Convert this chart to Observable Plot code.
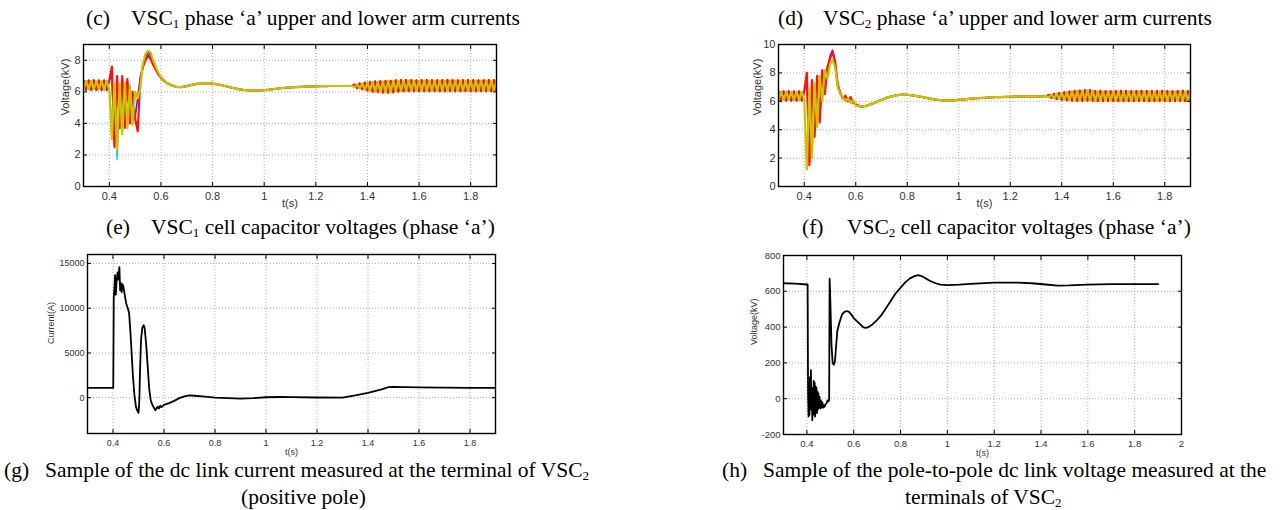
<!DOCTYPE html>
<html><head><meta charset="utf-8">
<script src="https://cdn.jsdelivr.net/npm/d3@7"></script>
<script src="https://cdn.jsdelivr.net/npm/@observablehq/plot@0.6"></script>
<style>
html,body{margin:0;padding:0;background:#fff;}
#wrap{position:relative;width:1284px;height:510px;overflow:hidden;background:#fff;}
.cap{position:absolute;font-family:"Liberation Serif","Times New Roman",serif;font-size:21.5px;line-height:22px;color:#000;white-space:nowrap;}
.cap .tag{display:inline-block;width:45px;}
.cap .tag2{display:inline-block;width:41px;}
.cap sub{font-size:13px;vertical-align:-3px;line-height:0;}
.panel{position:absolute;}
</style></head><body><div id="wrap">
<div class="cap" style="left:86px;top:7px"><span class="tag">(c)</span>VSC<sub>1</sub> phase ‘a’ upper and lower arm currents</div>
<div class="cap" style="left:778px;top:7px"><span class="tag">(d)</span>VSC<sub>2</sub> phase ‘a’ upper and lower arm currents</div>
<div class="cap" style="left:106px;top:216px"><span class="tag">(e)</span>VSC<sub>1</sub> cell capacitor voltages (phase ‘a’)</div>
<div class="cap" style="left:802px;top:216px"><span class="tag">(f)</span>VSC<sub>2</sub> cell capacitor voltages (phase ‘a’)</div>
<div class="cap" style="left:4px;top:459px"><span class="tag2">(g)</span>Sample of the dc link current measured at the terminal of VSC<sub>2</sub></div>
<div class="cap" style="left:241px;top:486px">(positive pole)</div>
<div class="cap" style="left:722px;top:459px"><span class="tag2">(h)</span>Sample of the pole-to-pole dc link voltage measured at the</div>
<div class="cap" style="left:905px;top:486px">terminals of VSC<sub>2</sub></div>
</div>
<script>
// ---------- tick labels ----------
const xTicks = [0.4,0.6,0.8,1,1.2,1.4,1.6,1.8];
const xTicksH = [0.4,0.6,0.8,1,1.2,1.4,1.6,1.8,2];
const yTicksC = [0,2,4,6,8];
const yTicksD = [0,2,4,6,8,10];
const yTicksG = [0,5000,10000,15000];
const yTicksH = [-200,0,200,400,600,800];

// ---------- time bases for cell capacitor voltages (s) ----------
const timeFast1 = [0.30,0.31,0.32,0.33,0.34,0.35,0.36,0.37,0.38,0.39,0.40,0.41,0.42,0.43,0.44,0.45,0.46,0.47,0.48,0.49,0.50,0.51,0.52,0.53,0.54,0.55,0.56,0.57,0.58,0.59,0.60];
const timeSlow = [0.62,0.64,0.66,0.68,0.70,0.72,0.74,0.76,0.78,0.80,0.82,0.84,0.86,0.88,0.90,0.92,0.94,0.96,0.98,1.00,1.02,1.04,1.06,1.08,1.10,1.12,1.14,1.16,1.18,1.20,1.22,1.24,1.26,1.28,1.30,1.32,1.34];
const timeFast2 = [1.35,1.36,1.37,1.38,1.39,1.40,1.41,1.42,1.43,1.44,1.45,1.46,1.47,1.48,1.49,1.50,1.51,1.52,1.53,1.54,1.55,1.56,1.57,1.58,1.59,1.60,1.61,1.62,1.63,1.64,1.65,1.66,1.67,1.68,1.69,1.70,1.71,1.72,1.73,1.74,1.75,1.76,1.77,1.78,1.79,1.80,1.81,1.82,1.83,1.84,1.85,1.86,1.87,1.88,1.89,1.90];

// ---------- VSC1 cell voltages (kV) ----------
const c_red_fast1 = [6.70,6.15,6.70,6.15,6.71,6.15,6.70,6.14,6.70,6.15,6.70, 7.60,2.50,7.00,3.70,7.00,3.80,6.80,4.00,6.00,4.30, 3.50,6.80,7.60,8.00,8.30,8.10,7.70,7.40,7.10,6.90];
const c_olive_fast1 = [6.15,6.70,6.15,6.71,6.15,6.70,6.15,6.70,6.14,6.70,6.15, 3.00,6.60,2.30,6.50,3.30,6.60,3.70,6.40,3.90,6.00, 5.60,6.20,7.80,8.40,8.60,8.50,8.00,7.60,7.20,6.95];
const c_blue_fast1 = [6.75,6.10,6.75,6.10,6.76,6.10,6.75,6.09,6.75,6.10,6.75, 7.00,3.00,6.90,3.90,6.90,3.70,6.60,4.10,5.90,4.40, 5.60,6.90,7.50,8.20,8.50,8.30,7.90,7.50,7.15,6.90];
const c_slow = [6.60,6.42,6.32,6.30,6.36,6.44,6.50,6.54,6.55,6.52,6.47,6.40,6.32,6.24,6.17,6.12,6.09,6.08,6.09,6.11,6.14,6.18,6.22,6.26,6.28,6.30,6.32,6.33,6.34,6.35,6.36,6.36,6.37,6.37,6.37,6.37,6.38];
const c_red_fast2 = [6.45,6.25,6.52,6.18,6.58,6.10,6.62,6.02,6.65,6.00,6.66,5.97,6.68,5.96,6.70,5.98,6.72,6.02, 6.73,6.05,6.74,6.06,6.73,6.05,6.72,6.06,6.73,6.05,6.74,6.05,6.73,6.06,6.72,6.05,6.73,6.05,6.74,6.06,6.73,6.05,6.72,6.05,6.73,6.06,6.74,6.05,6.73,6.05,6.72,6.06,6.73,6.05,6.74,6.05,6.73,6.06];
const c_olive_fast2 = [6.28,6.48,6.20,6.55,6.13,6.60,6.05,6.63,6.00,6.65,5.97,6.67,5.96,6.69,5.98,6.70,6.03,6.72, 6.06,6.72,6.05,6.73,6.06,6.72,6.05,6.72,6.06,6.73,6.05,6.72,6.06,6.72,6.05,6.73,6.06,6.72,6.05,6.72,6.06,6.73,6.05,6.72,6.06,6.72,6.05,6.73,6.06,6.72,6.05,6.72,6.06,6.73,6.05,6.72,6.06,6.72];
const c_blue_fast2 = [6.47,6.22,6.55,6.15,6.60,6.07,6.65,6.00,6.68,5.97,6.69,5.94,6.70,5.93,6.72,5.96,6.75,6.00, 6.76,6.02,6.77,6.03,6.76,6.02,6.75,6.03,6.76,6.02,6.77,6.02,6.76,6.03,6.75,6.02,6.76,6.02,6.77,6.03,6.76,6.02,6.75,6.02,6.76,6.03,6.77,6.02,6.76,6.02,6.75,6.03,6.76,6.02,6.77,6.02,6.76,6.03];
const c_cyan_t = [0.40,0.41,0.42,0.43,0.44,0.45];
const c_cyan_v = [6.20,4.00,6.00,1.70,5.50,4.00];

// ---------- VSC2 cell voltages (kV) ----------
const d_red_fast1 = [6.68,6.08,6.68,6.08,6.69,6.08,6.68,6.07,6.68,6.08,6.68, 8.00,1.50,7.50,3.50,7.80,4.50,8.20,6.50,8.40,9.00, 9.50,8.80,7.20,6.60,6.20,6.40,6.00,6.30,5.90,5.80];
const d_olive_fast1 = [6.08,6.68,6.08,6.68,6.08,6.69,6.08,6.68,6.07,6.68,6.10, 1.20,6.90,2.00,7.30,4.20,7.80,6.00,8.20,7.60,8.60, 8.90,8.40,7.00,6.50,6.30,6.00,6.20,5.90,6.10,5.70];
const d_blue_fast1 = [6.72,6.02,6.72,6.02,6.73,6.02,6.72,6.01,6.72,6.02,6.72, 7.60,1.80,7.20,3.80,7.50,4.80,7.90,6.80,8.20,9.20, 9.60,8.60,7.00,6.50,6.30,6.10,6.20,5.95,6.00,5.75];
const d_slow = [5.62,5.68,5.80,5.95,6.10,6.24,6.35,6.43,6.47,6.46,6.42,6.36,6.29,6.22,6.15,6.10,6.07,6.06,6.07,6.10,6.13,6.17,6.20,6.23,6.25,6.27,6.29,6.30,6.31,6.32,6.33,6.33,6.34,6.34,6.34,6.35,6.36];
const d_red_fast2 = [6.45,6.25,6.52,6.18,6.58,6.12,6.63,6.08,6.68,6.05,6.72,6.05,6.75,6.05,6.78,6.05,6.78,6.05, 6.72,6.02,6.73,6.03,6.72,6.02,6.71,6.03,6.72,6.02,6.73,6.02,6.72,6.03,6.71,6.02,6.72,6.02,6.73,6.03,6.72,6.02,6.71,6.02,6.72,6.03,6.73,6.02,6.72,6.02,6.71,6.03,6.72,6.02,6.73,6.02,6.72,6.03];
const d_olive_fast2 = [6.28,6.48,6.20,6.55,6.14,6.60,6.10,6.65,6.06,6.70,6.05,6.73,6.05,6.76,6.05,6.78,6.05,6.76, 6.03,6.70,6.04,6.71,6.03,6.70,6.04,6.70,6.03,6.71,6.04,6.70,6.03,6.70,6.04,6.71,6.03,6.70,6.04,6.70,6.03,6.71,6.04,6.70,6.03,6.70,6.04,6.71,6.03,6.70,6.04,6.70,6.03,6.71,6.04,6.70,6.03,6.70];
const d_blue_fast2 = [6.47,6.23,6.55,6.15,6.60,6.10,6.66,6.05,6.70,6.02,6.75,6.02,6.78,6.02,6.80,6.02,6.80,6.02, 6.74,6.00,6.75,6.01,6.74,6.00,6.73,6.01,6.74,6.00,6.75,6.00,6.74,6.01,6.73,6.00,6.74,6.00,6.75,6.01,6.74,6.00,6.73,6.00,6.74,6.01,6.75,6.00,6.74,6.00,6.73,6.01,6.74,6.00,6.75,6.00,6.74,6.01];

// ---------- dc link current (A) ----------
const g_t = [0.300,0.401,0.403,0.406,0.408,0.411,0.414,0.418,0.421,0.425,0.428,0.431,0.434,0.437,0.441,0.446,0.452,0.458,0.463,0.468,0.473,0.478,0.484,0.490,0.496,0.500,0.503,0.506,0.510,0.515,0.520,0.524,0.530,0.536,0.542,0.548,0.553,0.558,0.562,0.566,0.570,0.575,0.580,0.585,0.590,0.600,0.620,0.640,0.660,0.680,0.700,0.720,0.750,0.800,0.850,0.900,0.950,1.000,1.050,1.100,1.200,1.300,1.350,1.400,1.450,1.480,1.500,1.600,1.700,1.800,1.900];
const g_i = [1100,1100,11200,12500,13700,11500,13000,14000,13200,14600,12000,12800,11800,12700,12400,11500,10500,10000,9500,7500,5000,2500,300,-1000,-1500,-1700,-500,3000,6500,7800,8100,7800,6000,3500,1000,-300,-700,-1000,-1200,-1400,-1200,-1000,-1200,-900,-1050,-800,-600,-350,-50,150,250,220,150,0,-50,-100,-50,50,80,60,20,0,250,550,900,1180,1200,1150,1120,1100,1100];

// ---------- pole-to-pole dc voltage (kV) ----------
const h_t = [0.300,0.350,0.400,0.403,0.404,0.405,0.407,0.409,0.411,0.413,0.415,0.417,0.419,0.421,0.423,0.425,0.427,0.429,0.431,0.433,0.435,0.437,0.439,0.441,0.443,0.445,0.447,0.449,0.451,0.454,0.457,0.460,0.463,0.466,0.469,0.472,0.476,0.480,0.484,0.488,0.492,0.495,0.497,0.500,0.505,0.510,0.515,0.520,0.525,0.530,0.540,0.550,0.560,0.570,0.580,0.590,0.600,0.620,0.640,0.650,0.660,0.680,0.700,0.720,0.740,0.760,0.780,0.800,0.820,0.840,0.860,0.875,0.890,0.910,0.930,0.950,0.970,1.000,1.050,1.100,1.200,1.300,1.360,1.420,1.470,1.520,1.600,1.700,1.800,1.900];
const h_v = [645,643,638,638,300,20,-100,60,-90,120,-60,160,-40,60,-120,40,-90,100,-70,90,-100,70,-70,60,-80,40,-60,30,-50,10,-55,-10,-50,-20,-50,-35,-45,-30,-25,-10,-15,-5,670,550,300,200,190,210,300,380,430,470,485,490,485,470,450,425,400,395,398,415,440,470,510,550,590,620,650,672,685,690,685,670,655,645,637,635,637,642,648,648,645,638,632,633,637,640,640,640];

// ---------- colours ----------
const RED = "#ff1010", OLIVE = "#c8c400", BLUE = "#2a2aff", CYAN = "#14c8d2";

function pts(t, v){ return t.map((x,i)=>({t:x, v:v[i]})); }
const fmt = d => String(+(+d).toFixed(2));

function makePanel(cfg){
  const marks = [
    Plot.gridX(cfg.xTicks, {stroke:"#9a9a9a", strokeOpacity:1, strokeDasharray:"1,2", strokeWidth:0.8}),
    Plot.gridY(cfg.yTicks, {stroke:"#9a9a9a", strokeOpacity:1, strokeDasharray:"1,2", strokeWidth:0.8})
  ];
  for (const s of cfg.series){
    marks.push(Plot.line(pts(s.t, s.v), {x:"t", y:"v", stroke:s.stroke, strokeWidth:s.sw, clip:true}));
  }
  marks.push(Plot.frame({stroke:"#000", strokeWidth:1.4}));
  marks.push(Plot.axisX(cfg.xTicks, {anchor:"bottom", tickSize:-4, tickPadding:10, label:null, tickFormat:fmt, fontSize:cfg.tf, fill:"#333", stroke:"#000"}));
  marks.push(Plot.axisX(cfg.xTicks, {anchor:"top", tickSize:-4, label:null, tickFormat:()=>"", stroke:"#000"}));
  marks.push(Plot.axisY(cfg.yTicks, {anchor:"left", tickSize:-4, tickPadding:7, label:null, tickFormat:fmt, fontSize:cfg.tf, fill:"#333", stroke:"#000"}));
  marks.push(Plot.axisY(cfg.yTicks, {anchor:"right", tickSize:-4, label:null, tickFormat:()=>"", stroke:"#000"}));
  marks.push(Plot.text([cfg.yLabel], {text:d=>d, frameAnchor:"left", dx:cfg.ylDx, rotate:-90, fontSize:cfg.lf, fill:"#333"}));
  marks.push(Plot.text(["t(s)"], {text:d=>d, frameAnchor:"bottom", dy:cfg.tdy, fontSize:cfg.lf, fill:"#333"}));
  const svg = Plot.plot({
    width: cfg.width, height: cfg.height,
    marginLeft: 50, marginRight: 12, marginTop: 6, marginBottom: 28,
    x: {domain: cfg.xDomain}, y: {domain: cfg.yDomain},
    style: {fontFamily: "'Liberation Sans', Arial, sans-serif", background: "transparent", color: "#000", overflow: "visible"},
    marks
  });
  const div = document.createElement("div");
  div.className = "panel";
  div.style.left = cfg.left + "px";
  div.style.top = cfg.top + "px";
  div.appendChild(svg);
  document.getElementById("wrap").appendChild(div);
}

function cellSeries(redA, oliveA, blueA, slow, redC, oliveC, blueC){
  const t = [...timeFast1, ...timeSlow, ...timeFast2];
  return {
    blue: {t, v:[...blueA, ...slow, ...blueC], stroke:BLUE, sw:1.6},
    red: {t, v:[...redA, ...slow, ...redC], stroke:RED, sw:2.2},
    olive: {t, v:[...oliveA, ...slow, ...oliveC], stroke:OLIVE, sw:2.2}
  };
}

// (c) VSC1
const sc = cellSeries(c_red_fast1,c_olive_fast1,c_blue_fast1,c_slow,c_red_fast2,c_olive_fast2,c_blue_fast2);
makePanel({left:33, top:38, width:475, height:176, xDomain:[0.3,1.9], yDomain:[0,9],
  xTicks, yTicks:yTicksC, tf:11, lf:11, tdy:20, yLabel:"Voltage(kV)", ylDx:-18,
  series:[sc.blue, {t:c_cyan_t, v:c_cyan_v, stroke:CYAN, sw:1.4}, sc.red, sc.olive]});

// (d) VSC2
const sd = cellSeries(d_red_fast1,d_olive_fast1,d_blue_fast1,d_slow,d_red_fast2,d_olive_fast2,d_blue_fast2);
makePanel({left:728, top:38, width:474, height:176, xDomain:[0.3,1.9], yDomain:[0,10],
  xTicks, yTicks:yTicksD, tf:11, lf:11, tdy:20, yLabel:"Voltage(kV)", ylDx:-21,
  series:[sd.blue, sd.red, sd.olive]});

// (g) dc current
makePanel({left:37, top:248, width:470, height:213, xDomain:[0.3,1.9], yDomain:[-4000,16000],
  xTicks, yTicks:yTicksG, tf:9, lf:9, tdy:21, yLabel:"Current(A)", ylDx:-36,
  series:[{t:g_t, v:g_i, stroke:"#000", sw:1.8}]});

// (h) dc voltage
makePanel({left:733, top:249, width:460, height:213, xDomain:[0.3,2], yDomain:[-200,800],
  xTicks:xTicksH, yTicks:yTicksH, tf:9.5, lf:9, tdy:21, yLabel:"Voltage(kV)", ylDx:-29,
  series:[{t:h_t, v:h_v, stroke:"#000", sw:1.8}]});
</script></body></html>
